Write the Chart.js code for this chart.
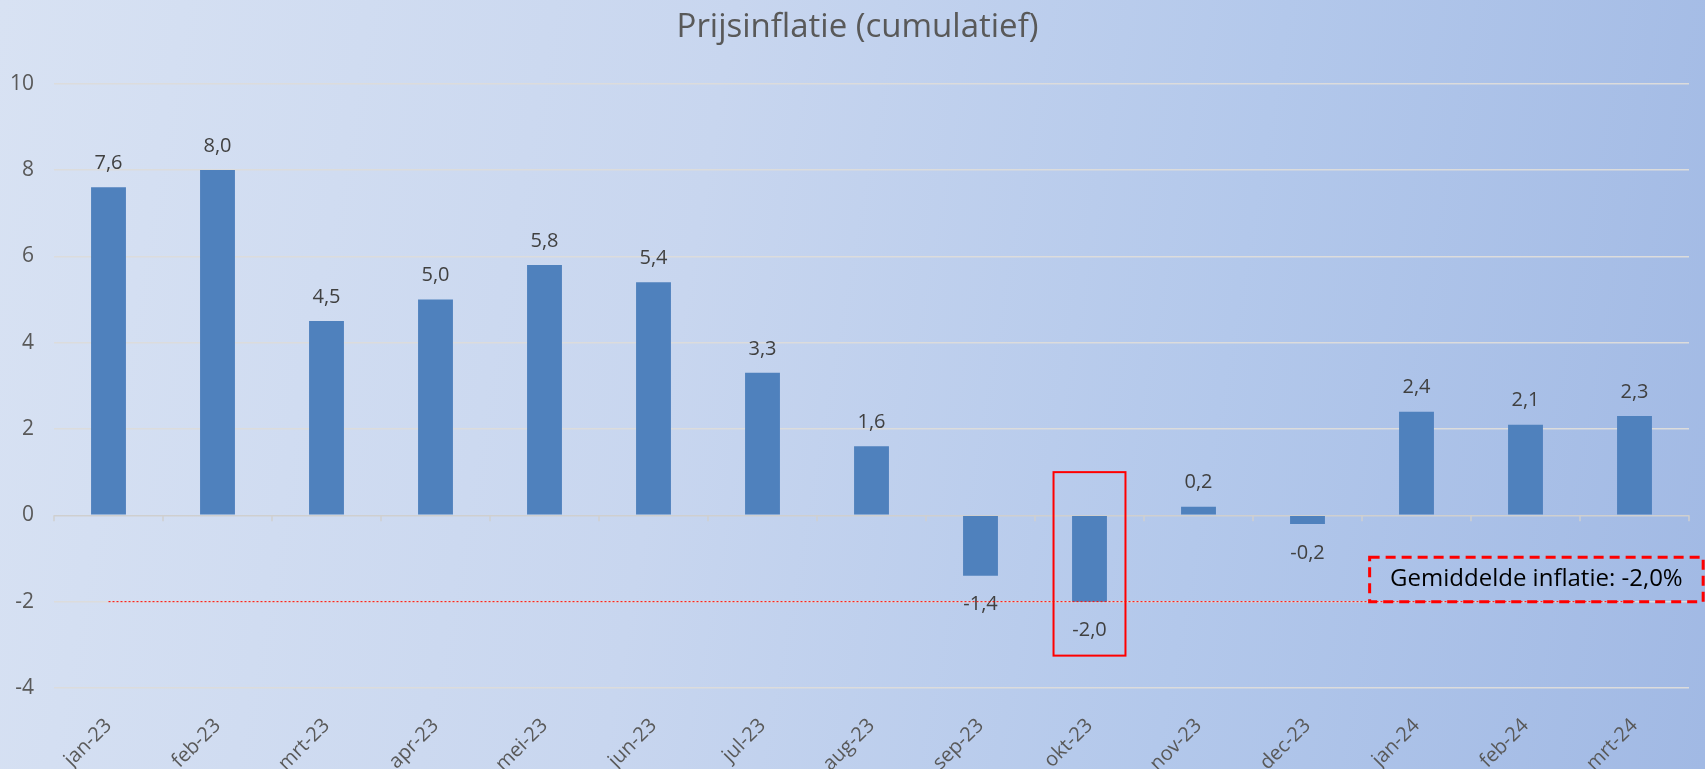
<!DOCTYPE html>
<html>
<head>
<meta charset="utf-8">
<script src="https://cdn.jsdelivr.net/npm/chart.js@4.4.1/dist/chart.umd.min.js"></script>
<style>
html, body { margin: 0; padding: 0; width: 1705px; height: 769px; overflow: hidden; }
body { background: linear-gradient(100deg, #d8e2f3 0%, #c8d6ef 40%, #b3c8eb 70%, #a1b9e4 100%); }
#wrap { position: relative; width: 1705px; height: 769px; }
</style>
</head>
<body>
<div id="wrap"><canvas id="chart"></canvas></div>
<script>
const maanden = ["jan-23", "feb-23", "mrt-23", "apr-23", "mei-23", "jun-23", "jul-23", "aug-23",
                 "sep-23", "okt-23", "nov-23", "dec-23", "jan-24", "feb-24", "mrt-24"];
const inflatie = [7.6, 8.0, 4.5, 5.0, 5.8, 5.4, 3.3, 1.6, -1.4, -2.0, 0.2, -0.2, 2.4, 2.1, 2.3];
const gemiddelde = -2.0;
const yMin = -4, yMax = 10, yStap = 2;
const uitgelicht = "okt-23";
const notitie = "Gemiddelde inflatie: -2,0%";

const fmt = v => v.toFixed(1).replace('.', ',');
const font = "'Open Sans', 'Liberation Sans', sans-serif";

// waarden boven/onder de staven
const labelsPlugin = {
    id: 'waardeLabels',
    afterDatasetsDraw(chart) {
        const ctx = chart.ctx;
        const meta = chart.getDatasetMeta(0);
        ctx.save();
        ctx.font = "20px " + font;
        ctx.fillStyle = '#404040';
        ctx.textAlign = 'center';
        ctx.textBaseline = 'middle';
        meta.data.forEach((bar, i) => {
            const v = inflatie[i];
            const y = v >= 0 ? bar.y - 24 : bar.y + 29;
            ctx.fillText(fmt(v), bar.x, y);
        });
        ctx.restore();
    }
};

// nullijn-streepjes, gemiddelde lijn, kaders
const extraPlugin = {
    id: 'extra',
    afterLayout(chart) {
        // titel iets naar rechts, zoals in het origineel
        if (chart.titleBlock) {
            chart.titleBlock.left += 13;
            chart.titleBlock.right += 13;
        }
    },
    beforeDatasetsDraw(chart) {
        const { ctx, scales: { x, y } } = chart;
        const y0 = y.getPixelForValue(0);
        ctx.save();
        ctx.strokeStyle = '#d0d0d0';
        ctx.lineWidth = 1.5;
        ctx.beginPath();
        for (let i = 0; i <= maanden.length; i++) {
            const px = x.getPixelForValue(i - 0.5);
            ctx.moveTo(px, y0);
            ctx.lineTo(px, y0 + 6);
        }
        ctx.stroke();
        ctx.restore();
    },
    afterDatasetsDraw(chart) {
        const { ctx, scales: { x, y } } = chart;
        ctx.save();
        // gemiddelde
        const ya = y.getPixelForValue(gemiddelde);
        ctx.strokeStyle = '#ff0000';
        ctx.lineWidth = 1;
        ctx.setLineDash([2, 2]);
        ctx.beginPath();
        ctx.moveTo(x.getPixelForValue(0), ya);
        ctx.lineTo(x.getPixelForValue(maanden.length - 1), ya);
        ctx.stroke();

        // kader rond uitgelichte maand
        const i = maanden.indexOf(uitgelicht);
        ctx.setLineDash([]);
        ctx.lineWidth = 2;
        const l = x.getPixelForValue(i - 0.33), r = x.getPixelForValue(i + 0.33);
        const t = y.getPixelForValue(1.0), b = y.getPixelForValue(-3.25);
        ctx.strokeRect(l, t, r - l, b - t);

        // notitie
        const nl = x.getPixelForValue(11.57), nr = x.getPixelForValue(14.63);
        const nt = y.getPixelForValue(-0.97), nb = y.getPixelForValue(gemiddelde);
        ctx.setLineDash([10, 6]);
        ctx.lineWidth = 3;
        ctx.strokeRect(nl, nt, nr - nl, nb - nt);
        ctx.setLineDash([]);
        ctx.fillStyle = '#000000';
        ctx.font = "24px " + font;
        ctx.textAlign = 'center';
        ctx.textBaseline = 'middle';
        ctx.fillText(notitie, (nl + nr) / 2, (nt + nb) / 2);
        ctx.restore();
    }
};

new Chart(document.getElementById('chart'), {
    type: 'bar',
    data: {
        labels: maanden,
        datasets: [{
            data: inflatie,
            backgroundColor: '#4f81bd',
            barPercentage: 0.64,
            categoryPercentage: 0.5
        }]
    },
    options: {
        responsive: true,
        maintainAspectRatio: false,
        animation: false,
        layout: { padding: { left: 0, right: 16, top: 0, bottom: 0 } },
        plugins: {
            legend: { display: false },
            tooltip: { enabled: false },
            title: {
                display: true,
                text: 'Prijsinflatie (cumulatief)',
                color: '#595959',
                font: { family: font, size: 33, weight: 'normal' },
                padding: { top: 8, bottom: 36 }
            }
        },
        scales: {
            x: {
                grid: { display: false },
                border: { display: false },
                afterFit: s => { s.height = 81; s.paddingLeft = 0; s.paddingRight = 0; },
                ticks: {
                    color: '#595959',
                    font: { family: font, size: 20 },
                    minRotation: 45,
                    maxRotation: 45,
                    padding: 18
                }
            },
            y: {
                min: yMin,
                max: yMax,
                border: { display: false },
                afterFit: s => { s.width = 54; },
                grid: {
                    drawTicks: false,
                    lineWidth: 1.5,
                    color: c => c.tick.value === 0 ? '#cfcfcf' : '#dcdcdc'
                },
                ticks: {
                    stepSize: yStap,
                    color: '#595959',
                    font: { family: font, size: 21 },
                    padding: 20
                }
            }
        }
    },
    plugins: [labelsPlugin, extraPlugin]
});
</script>
</body>
</html>
